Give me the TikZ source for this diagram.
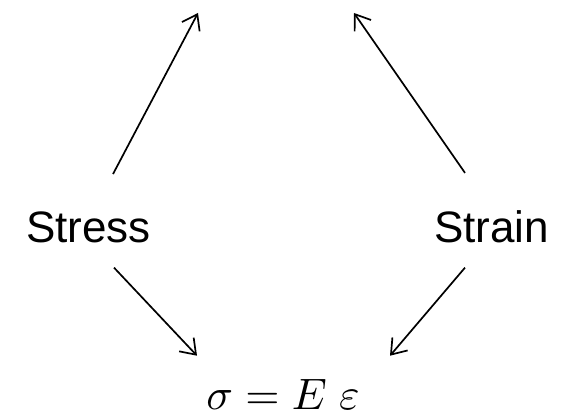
\documentclass[tikz,border=0pt]{standalone}
\usepackage{amsmath}
\usepackage{graphicx}
\usepackage{fontspec}
\setmainfont{Liberation Sans}
\usetikzlibrary{arrows.meta}

\begin{document}
\begin{tikzpicture}[x=1pt, y=1pt,
        word/.style  = {inner sep=0pt, anchor=base, font=\fontsize{44}{52}\selectfont}, % Stress / Strain
        law/.style   = {inner sep=0pt, anchor=base},
        arrow/.style = {draw, line width=1.7pt, -{Straight Barb[length=14pt, width=20pt]}} % Style for the arrows
    ]
    \useasboundingbox (0,0) rectangle (564,417);

    \node[word] (stress) at (88.5,174) {Stress};
    \node[word] (strain) at (491.5,174) {Strain};
    \node[law] (hooke) at (283,7) {\scalebox{4.4}{$\sigma = E\ \varepsilon$}};

    % free ends at the top
    \coordinate (up_stress) at (198,404);
    \coordinate (up_strain) at (354,404);

    % Arrows
    \draw[arrow] ([shift={(24.5,38)}]stress.north) -- (up_stress);
    \draw[arrow] ([shift={(-26.5,38)}]strain.north) -- (up_strain);
    \draw[arrow] ([shift={(25.5,-24)}]stress.south) -- ([shift={(-86,24)}]hooke.north);
    \draw[arrow] ([shift={(-26.5,-24)}]strain.south) -- ([shift={(107,24)}]hooke.north);

\end{tikzpicture}
\end{document}
